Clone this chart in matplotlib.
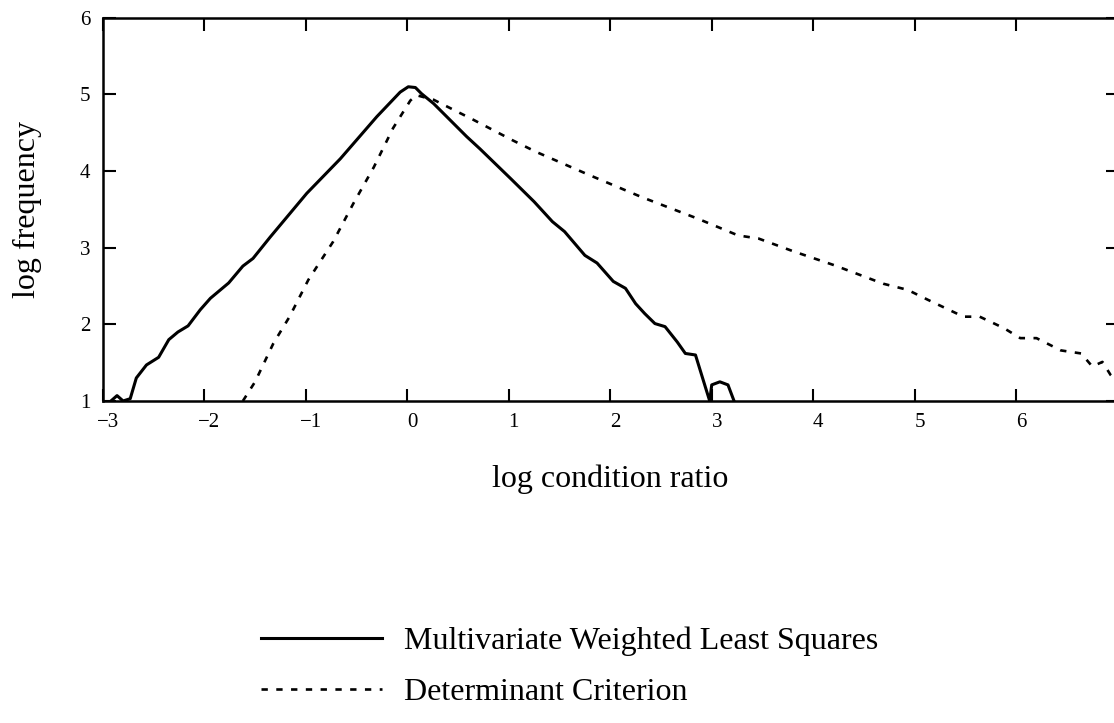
import numpy as np
import matplotlib
matplotlib.use("Agg")
import matplotlib.pyplot as plt
import matplotlib.transforms as mtransforms

plt.rcParams['font.family'] = ['Liberation Serif', 'DejaVu Serif']

# solid curve: Multivariate Weighted Least Squares
wls_x = [-2.92, -2.86, -2.80, -2.73, -2.67, -2.57, -2.45, -2.35, -2.26, -2.16,
         -2.04, -1.94, -1.76, -1.62, -1.52, -1.35, -0.99, -0.66, -0.30, -0.07,
         0.01, 0.08, 0.14, 0.26, 0.585, 0.716, 1.02, 1.25, 1.43, 1.55, 1.75,
         1.87, 2.03, 2.15, 2.25, 2.34, 2.44, 2.54, 2.66, 2.74, 2.84, 2.94,
         2.98, 3.00, 3.08, 3.16, 3.22]
wls_y = [1.0, 1.07, 1.0, 1.03, 1.30, 1.47, 1.57, 1.80, 1.90, 1.98,
         2.19, 2.34, 2.54, 2.76, 2.86, 3.14, 3.71, 4.16, 4.71, 5.03,
         5.10, 5.09, 5.01, 4.88, 4.45, 4.29, 3.90, 3.60, 3.34, 3.21, 2.90,
         2.80, 2.56, 2.47, 2.27, 2.14, 2.01, 1.97, 1.77, 1.62, 1.60, 1.17,
         1.0, 1.21, 1.25, 1.21, 1.0]

# dashed curve: Determinant Criterion
det_x = [-1.62, -1.50, -1.32, -1.16, -0.975, -0.73, -0.53, -0.33, -0.14, 0.03,
         0.09, 0.26, 0.65, 1.04, 1.27, 1.79, 2.31, 2.86, 3.26, 3.46, 3.81,
         4.21, 4.69, 4.93, 5.13, 5.48, 5.64, 5.88, 6.04, 6.20, 6.44, 6.64,
         6.75, 6.85, 6.93, 7.0]
det_y = [1.0, 1.25, 1.75, 2.10, 2.58, 3.08, 3.58, 4.05, 4.56, 4.92,
         4.99, 4.93, 4.67, 4.40, 4.25, 3.95, 3.66, 3.38, 3.16, 3.12, 2.95,
         2.77, 2.53, 2.45, 2.32, 2.10, 2.10, 1.95, 1.82, 1.82, 1.66, 1.62,
         1.45, 1.51, 1.34, 1.25]

xticks = [-3, -2, -1, 0, 1, 2, 3, 4, 5, 6, 7]
yticks = [1, 2, 3, 4, 5, 6]

fig = plt.figure(figsize=(11.14, 7.23), dpi=100)
ax = fig.add_axes([0.0923, 0.4454, 0.911, 0.530])

l1, = ax.plot(wls_x, wls_y, color='black', lw=2.2, solid_joinstyle='round',
              label='Multivariate Weighted Least Squares')
l2, = ax.plot(det_x, det_y, color='black', lw=1.9, linestyle=(0, (2.4, 3.2)),
              label='Determinant Criterion')

ax.set_xlim(-3, 7)
ax.set_ylim(1, 6)
ax.set_xticks(xticks)
ax.set_yticks(yticks)
ax.set_xticklabels([str(t).replace('-', '\u2212') for t in xticks])
ax.tick_params(direction='in', length=9, width=1.5, top=True, right=True,
               labelsize=15, pad=9)
for s in ax.spines.values():
    s.set_linewidth(1.8)

# the printed x labels sit a few pixels right of their ticks
shift = mtransforms.ScaledTranslation(0.05, 0, fig.dpi_scale_trans)
for lab in ax.get_xticklabels():
    lab.set_transform(lab.get_transform() + shift)

ax.set_xlabel('log condition ratio', fontsize=23)
ax.set_ylabel('log frequency', fontsize=23)
ax.xaxis.set_label_coords(0.5, -0.165)
ax.yaxis.set_label_coords(-0.060, 0.5)

fig.legend(handles=[l1, l2], loc='upper left', bbox_to_anchor=(0.220, 0.156),
           frameon=False, fontsize=23, handlelength=3.8, handletextpad=0.66,
           labelspacing=0.69, borderpad=0)

fig.savefig('out.png', dpi=100)
